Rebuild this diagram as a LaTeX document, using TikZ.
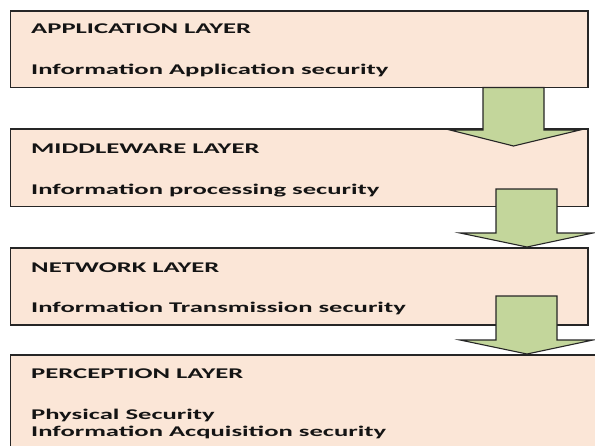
\documentclass[tikz,border=0pt]{standalone}
\usepackage{fontspec}
\setmainfont{Carlito}
\definecolor{peach}{HTML}{FBE6D7}
\definecolor{olive}{HTML}{C3D69B}
\definecolor{edge}{HTML}{262626}
\tikzset{
  layerbox/.style={draw=edge, line width=1.6pt, fill=peach},
  blockarrow/.style={draw=edge, line width=1.1pt, fill=olive, line join=miter},
  lbl/.style={anchor=base west, inner sep=0pt, font=\fontsize{14.8}{17.5}\selectfont\bfseries, text=black!92},
}
\newcommand{\wide}[1]{\scalebox{1.8}[1]{#1}}
\begin{document}
\begin{tikzpicture}[x=1pt,y=-1pt]
\useasboundingbox (0,0) rectangle (595,445);
\clip (0,0) rectangle (595,445);
% boxes
\draw[layerbox] (10.5,11) rectangle (588,87.5);
\draw[layerbox] (10.5,129) rectangle (588,206.5);
\draw[layerbox] (10.5,248) rectangle (588,325);
\draw[layerbox] (10.5,355) rectangle (605,460);
% labels
\node[lbl] (t1) at (31,33) {\wide{APPLICATION LAYER}};
\node[lbl] (s1) at (31,74) {\wide{Information Application security}};
\node[lbl] (t2) at (31,153) {\wide{MIDDLEWARE LAYER}};
\node[lbl] (s2) at (31,194) {\wide{Information processing security}};
\node[lbl] (t3) at (31,272) {\wide{NETWORK LAYER}};
\node[lbl] (s3) at (31,312) {\wide{Information Transmission security}};
\node[lbl] (t4) at (31,378) {\wide{PERCEPTION LAYER}};
\node[lbl] (s4a) at (31,419) {\wide{Physical Security}};
\node[lbl] (s4b) at (31,436) {\wide{Information Acquisition security}};
% arrows
\draw[blockarrow] (483,87.5) -- (544,87.5) -- (544,130) -- (580,130) -- (513.5,146) -- (450,130) -- (483,130) -- cycle;
\draw[blockarrow] (496,189) -- (557,189) -- (557,233) -- (593,233) -- (527,247) -- (460,233) -- (496,233) -- cycle;
\draw[blockarrow] (496,296) -- (557,296) -- (557,340) -- (593,340) -- (527,354) -- (460,340) -- (496,340) -- cycle;
\end{tikzpicture}
\end{document}
